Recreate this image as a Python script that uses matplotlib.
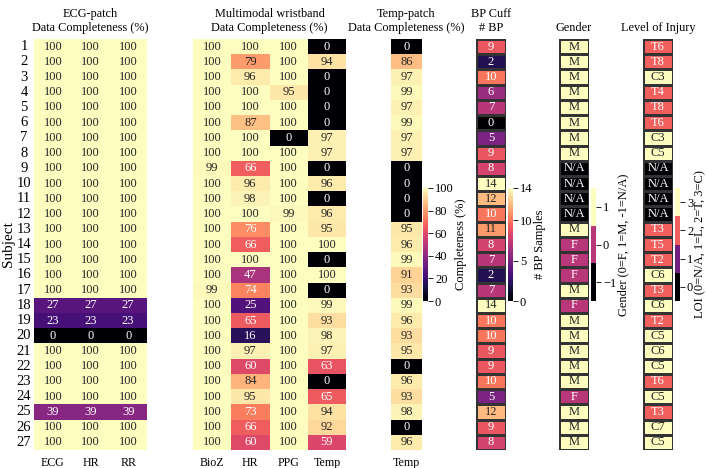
import numpy as np
import matplotlib
matplotlib.use('Agg')
import matplotlib.pyplot as plt
from matplotlib.colors import ListedColormap
import seaborn as sns

plt.rcParams['font.family'] = ['Liberation Serif', 'DejaVu Serif']
plt.rcParams['font.size'] = 9

subjects = [str(i) for i in range(1, 28)]

# ECG-patch completeness (%)
ecg = [100, 100, 100, 100, 100, 100, 100, 100, 100, 100, 100, 100, 100, 100,
       100, 100, 100, 27, 23, 0, 100, 100, 100, 100, 39, 100, 100]
ecg_hr = list(ecg)
ecg_rr = list(ecg)

# wristband completeness (%)
wb_bioz = [100, 100, 100, 100, 100, 100, 100, 100, 99, 100, 100, 100, 100, 100,
           100, 100, 99, 100, 100, 100, 100, 100, 100, 100, 100, 100, 100]
wb_hr = [100, 79, 96, 100, 100, 87, 100, 100, 66, 96, 98, 100, 76, 66,
         100, 47, 74, 25, 65, 16, 97, 60, 84, 95, 73, 66, 60]
wb_ppg = [100, 100, 100, 95, 100, 100, 0, 100, 100, 100, 100, 99, 100, 100,
          100, 100, 100, 100, 100, 100, 100, 100, 100, 100, 100, 100, 100]
wb_temp = [0, 94, 0, 0, 0, 0, 97, 97, 0, 96, 0, 96, 95, 100,
           0, 100, 0, 99, 93, 98, 97, 63, 0, 65, 94, 92, 59]

# temp-patch completeness (%)
tp_temp = [0, 86, 97, 99, 97, 99, 97, 97, 0, 0, 0, 0, 95, 96,
           99, 91, 93, 99, 96, 93, 95, 0, 96, 93, 98, 0, 96]

# BP cuff samples
bp = [9, 2, 10, 6, 7, 0, 5, 9, 8, 14, 12, 10, 11, 8,
      7, 2, 7, 14, 10, 10, 9, 9, 10, 5, 12, 9, 8]

gender = ['M', 'M', 'M', 'M', 'M', 'M', 'M', 'M', 'N/A', 'N/A', 'N/A', 'N/A', 'M', 'F',
          'F', 'F', 'M', 'F', 'M', 'M', 'M', 'M', 'M', 'F', 'M', 'M', 'M']
loi = ['T6', 'T8', 'C3', 'T4', 'T8', 'T6', 'C3', 'C5', 'N/A', 'N/A', 'N/A', 'N/A', 'T3', 'T5',
       'T2', 'C6', 'T3', 'C6', 'T2', 'C5', 'C6', 'C5', 'T6', 'C5', 'T3', 'C7', 'C5']

gender_code = {'F': 0, 'M': 1, 'N/A': -1}
loi_code = {'N/A': 0, 'L': 1, 'T': 2, 'C': 3}

W, H = 707, 468
fig = plt.figure(figsize=(W / 100, H / 100), dpi=100)


def px_axes(x0, x1, y0, y1):
    return fig.add_axes([x0 / W, 1 - y1 / H, (x1 - x0) / W, (y1 - y0) / H])


top, bottom = 39, 450
cb_top, cb_bot = 188, 301
annot_kws = {'size': 9}

ax1 = px_axes(34, 147, top, bottom)
ax2 = px_axes(193, 346, top, bottom)
ax3 = px_axes(391, 422, top, bottom)
cax3 = px_axes(423, 428, cb_top, cb_bot)
ax4 = px_axes(476, 506, top, bottom)
cax4 = px_axes(508, 513, cb_top, cb_bot)
ax5 = px_axes(559, 589, top, bottom)
cax5 = px_axes(591, 596, cb_top, cb_bot)
ax6 = px_axes(643, 673, top, bottom)
cax6 = px_axes(675, 680, cb_top, cb_bot)

d1 = np.array([ecg, ecg_hr, ecg_rr]).T
sns.heatmap(d1, ax=ax1, cmap='magma', vmin=0, vmax=100, annot=True, fmt='d',
            annot_kws=annot_kws, cbar=False,
            xticklabels=['ECG', 'HR', 'RR'], yticklabels=subjects)
ax1.set_title('ECG-patch\nData Completeness (%)')
ax1.set_ylabel('Subject', fontsize=11)
ax1.yaxis.set_label_coords(-0.168, 0.5)

d2 = np.array([wb_bioz, wb_hr, wb_ppg, wb_temp]).T
sns.heatmap(d2, ax=ax2, cmap='magma', vmin=0, vmax=100, annot=True, fmt='d',
            annot_kws=annot_kws, cbar=False,
            xticklabels=['BioZ', 'HR', 'PPG', 'Temp'], yticklabels=False)
ax2.set_title('Multimodal wristband\nData Completeness (%)')

d3 = np.array([tp_temp]).T
sns.heatmap(d3, ax=ax3, cmap='magma', vmin=0, vmax=100, annot=True, fmt='d',
            annot_kws=annot_kws, cbar_ax=cax3,
            cbar_kws={'ticks': [0, 20, 40, 60, 80, 100]},
            xticklabels=['Temp'], yticklabels=False)
ax3.set_title('Temp-patch\nData Completeness (%)')

d4 = np.array([bp]).T
sns.heatmap(d4, ax=ax4, cmap='magma', vmin=0, vmax=14, annot=True, fmt='d',
            annot_kws=annot_kws, linewidths=0.8, linecolor='0.2', cbar_ax=cax4,
            cbar_kws={'ticks': [0, 5, 10, 14]},
            xticklabels=False, yticklabels=False)
ax4.set_title('BP Cuff\n# BP')

g_cmap = ListedColormap(plt.get_cmap('magma')(np.linspace(0, 1, 3)))
d5 = np.array([[gender_code[g] for g in gender]]).T
sns.heatmap(d5, ax=ax5, cmap=g_cmap, vmin=-1.5, vmax=1.5,
            annot=np.array([gender]).T, fmt='', annot_kws=annot_kws,
            linewidths=0.8, linecolor='0.2', cbar_ax=cax5,
            cbar_kws={'ticks': [-1, 0, 1]},
            xticklabels=False, yticklabels=False)
ax5.set_title('Gender')

l_cmap = ListedColormap(plt.get_cmap('magma')(np.linspace(0, 1, 4)))
d6 = np.array([[loi_code['N/A' if s == 'N/A' else s[0]] for s in loi]]).T
sns.heatmap(d6, ax=ax6, cmap=l_cmap, vmin=-0.5, vmax=3.5,
            annot=np.array([loi]).T, fmt='', annot_kws=annot_kws,
            linewidths=0.8, linecolor='0.2', cbar_ax=cax6,
            cbar_kws={'ticks': [0, 1, 2, 3]},
            xticklabels=False, yticklabels=False)
ax6.set_title('Level of Injury')

for ax in [ax1, ax2, ax3, ax4, ax5, ax6]:
    ax.tick_params(length=0, pad=5)
    ax.tick_params(axis='x', labelsize=8.6)
    ax.title.set_fontsize(8.8)

# subject numbers are centred in their column
ax1.tick_params(axis='y', rotation=0, labelsize=10.5, pad=7.2)
for lbl in ax1.get_yticklabels():
    lbl.set_horizontalalignment('center')

cb_labels = ['Completeness (%)', '# BP Samples',
             'Gender (0=F, 1=M, -1=N/A)', 'LOI (0=N/A, 1=L, 2=T, 3=C)']
for cax, lab in zip([cax3, cax4, cax5, cax6], cb_labels):
    cax.tick_params(length=3.5, width=0.6, labelsize=9, pad=1.5)
    cax.set_ylabel(lab, fontsize=9, labelpad=1)

fig.savefig('out.png', dpi=100)
